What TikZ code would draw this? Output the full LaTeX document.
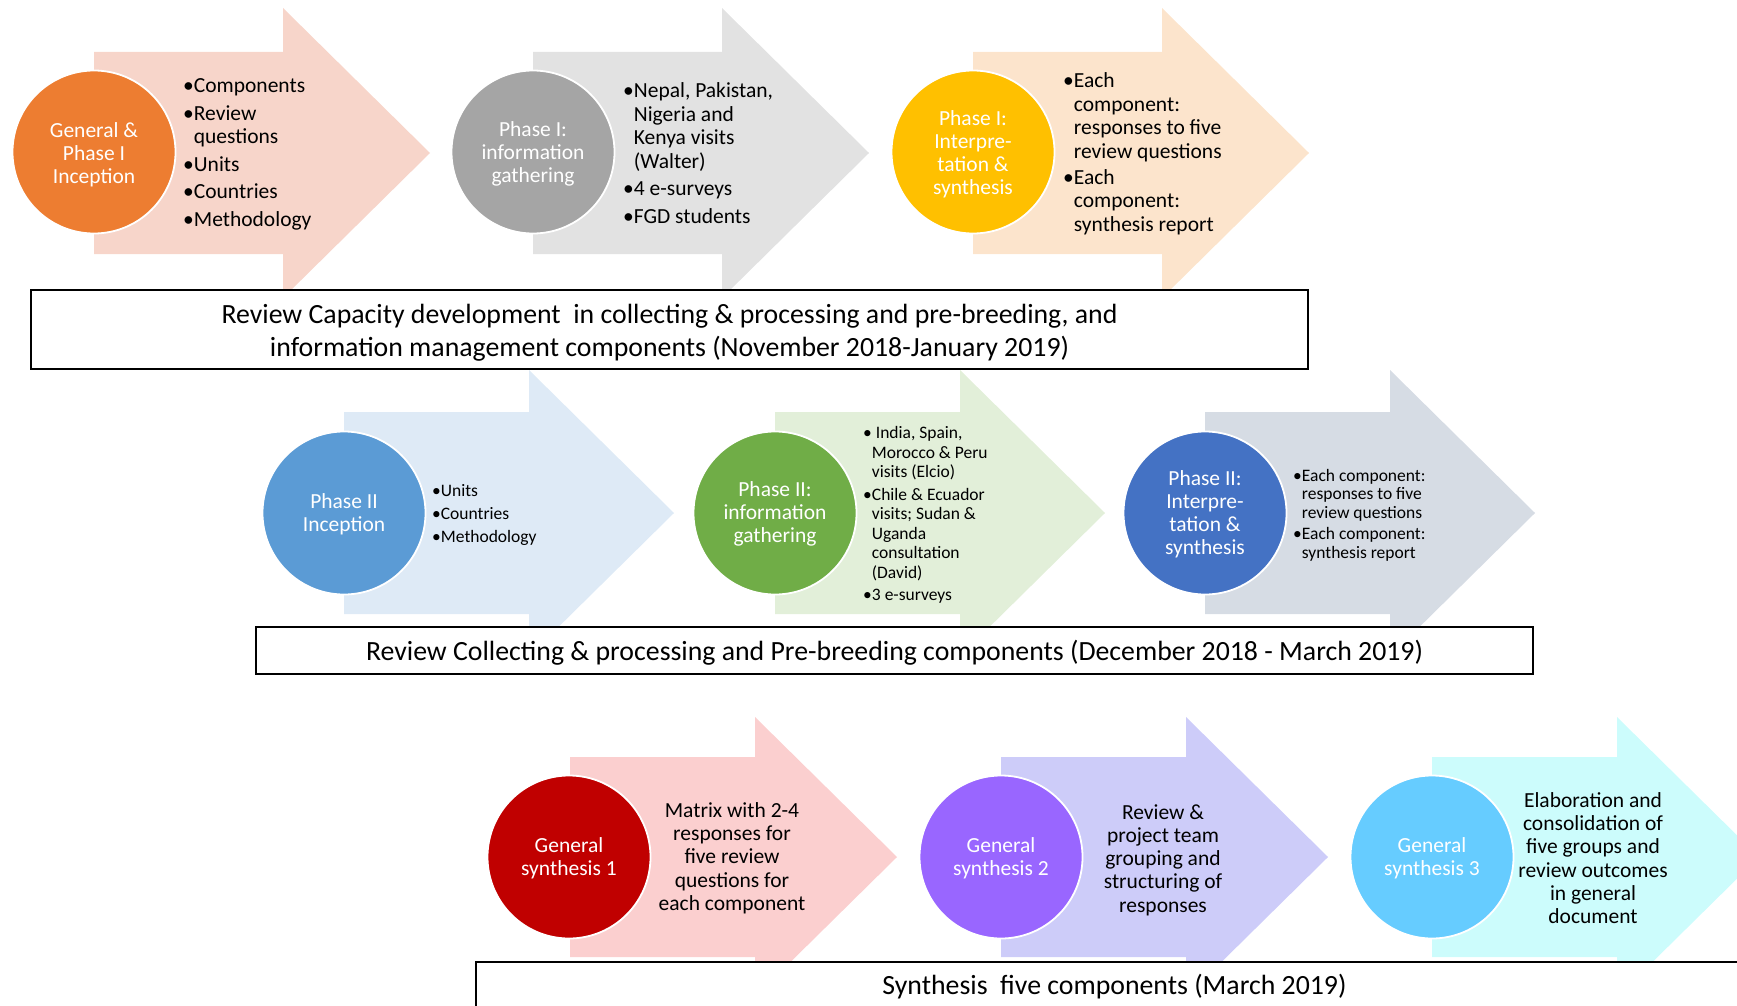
\documentclass[tikz,border=0pt]{standalone}
\usepackage{fontspec}
\setmainfont{Carlito}
\definecolor{cOr}{HTML}{ED7D31}\definecolor{aOr}{HTML}{F7D5CA}
\definecolor{cGy}{HTML}{A5A5A5}\definecolor{aGy}{HTML}{E2E2E2}
\definecolor{cGd}{HTML}{FFC000}\definecolor{aGd}{HTML}{FCE4CC}
\definecolor{cBl}{HTML}{5B9BD5}\definecolor{aBl}{HTML}{DEEAF6}
\definecolor{cGn}{HTML}{70AD47}\definecolor{aGn}{HTML}{E2EFD9}
\definecolor{cDb}{HTML}{4472C4}\definecolor{aDb}{HTML}{D6DCE4}
\definecolor{cRd}{HTML}{C00000}\definecolor{aRd}{HTML}{FBCFCF}
\definecolor{cPu}{HTML}{9966FF}\definecolor{aPu}{HTML}{CDCCF9}
\definecolor{cCy}{HTML}{66CCFF}\definecolor{aCy}{HTML}{CCFCFC}
\newcommand\chev[7]{% cx cy colour headstart tip headhalf bodyhalf
  \fill[#3] (#1,#2-#7) -- (#1+#4,#2-#7) -- (#1+#4,#2-#6) -- (#1+#5,#2)
    -- (#1+#4,#2+#6) -- (#1+#4,#2+#7) -- (#1,#2+#7) -- cycle;}
\newcommand\ph{\phantom{•}}
\tikzset{
  circ/.style={circle, minimum size=163pt, inner sep=0pt, draw=white, line width=1.8pt},
  circtxt/.style={text=white, align=center, inner sep=0pt, font=\fontsize{21.5}{23}\selectfont},
  bigtxt/.style={anchor=west, align=left, inner sep=0pt, font=\fontsize{21.5}{23.5}\selectfont},
  smalltxt/.style={anchor=west, align=left, inner sep=0pt, font=\fontsize{17.5}{19.3}\selectfont},
  ctrtxt/.style={align=center, inner sep=0pt, font=\fontsize{21.5}{23.3}\selectfont},
  periodbox/.style={draw=black, fill=white, line width=1.6pt, minimum width=1277pt, inner sep=0pt},
  periodtxt/.style={align=center, inner sep=0pt, font=\fontsize{27.8}{33}\selectfont}
}
\begin{document}
\begin{tikzpicture}[x=1pt,y=-1pt]
\useasboundingbox (0,0) rectangle (1737,1006);
\clip (0,0) rectangle (1737,1006);
% row 1 arrows
\chev{94}{153}{aOr}{189}{336}{145}{101}
\chev{533}{153}{aGy}{189}{336}{145}{101}
\chev{973}{153}{aGd}{189}{336}{145}{101}
% row 2 arrows
\chev{344}{513}{aBl}{185}{330}{143}{101}
\chev{775}{513}{aGn}{185}{330}{143}{101}
\chev{1205}{513}{aDb}{185}{330}{143}{101}
% row 3 arrows
\chev{570}{857}{aRd}{185}{327}{140}{100}
\chev{1001}{857}{aPu}{185}{327}{140}{100}
\chev{1432}{857}{aCy}{185}{327}{140}{100}
% row 1 circles and texts
\node[circ, fill=cOr] (c11) at (94,152) {};
\node[circ, fill=cGy] (c12) at (533,152) {};
\node[circ, fill=cGd] (c13) at (973,152) {};
\node[circtxt] (c11t) at (94,154.3) {General \&\\Phase I\\Inception};
\node[circtxt] (c12t) at (533,154.3) {Phase I:\\information\\gathering};
\node[circtxt] (c13t) at (973,154.3) {Phase I:\\Interpre-\\tation \&\\synthesis};
\node[bigtxt] (t11) at (183,154.5) {•Components\\[4pt]•Review\\\ph questions\\[4pt]•Units\\[4pt]•Countries\\[4pt]•Methodology};
\node[bigtxt] (t12) at (623,153) {•Nepal, Pakistan,\\\ph Nigeria and\\\ph Kenya visits\\\ph (Walter)\\[4pt]•4 e-surveys\\[4pt]•FGD students};
\node[bigtxt] (t13) at (1063,154) {•Each\\\ph component:\\\ph responses to five\\\ph review questions\\[2.5pt]•Each\\\ph component:\\\ph synthesis report};
% row 2 circles and texts
\node[circ, fill=cBl] (c21) at (344,513) {};
\node[circ, fill=cGn] (c22) at (775,513) {};
\node[circ, fill=cDb] (c23) at (1205,513) {};
\node[circtxt] (c21t) at (344,514) {Phase II\\Inception};
\node[circtxt] (c22t) at (775,514) {Phase II:\\information\\gathering};
\node[circtxt] (c23t) at (1205,514) {Phase II:\\Interpre-\\tation \&\\synthesis};
\node[smalltxt] (t21) at (432,515) {•Units\\[3.5pt]•Countries\\[3.5pt]•Methodology};
\node[smalltxt, font=\fontsize{17.5}{19.6}\selectfont] (t22) at (863,515) {• India, Spain,\\\ph Morocco \& Peru\\\ph visits (Elcio)\\[2.5pt]•Chile \& Ecuador\\\ph visits; Sudan \&\\\ph Uganda\\\ph consultation\\\ph (David)\\[2.5pt]•3 e-surveys};
\node[smalltxt, font=\fontsize{17.5}{18.8}\selectfont] (t23) at (1293,515) {•Each component:\\\ph responses to five\\\ph review questions\\[2pt]•Each component:\\\ph synthesis report};
% row 3 circles and texts
\node[circ, fill=cRd] (c31) at (569,857) {};
\node[circ, fill=cPu] (c32) at (1001,857) {};
\node[circ, fill=cCy] (c33) at (1432,857) {};
\node[circtxt] (c31t) at (569,858) {General\\synthesis 1};
\node[circtxt] (c32t) at (1001,858) {General\\synthesis 2};
\node[circtxt] (c33t) at (1432,858) {General\\synthesis 3};
\node[ctrtxt] (t31) at (732,858) {Matrix with 2-4\\responses for\\five review\\questions for\\each component};
\node[ctrtxt] (t32) at (1163,860) {Review \&\\project team\\grouping and\\structuring of\\responses};
\node[ctrtxt] (t33) at (1593,858) {Elaboration and\\consolidation of\\five groups and\\review outcomes\\in general\\document};
% period boxes
\node[periodbox, minimum height=79pt] (b1) at (669.5,329.5) {};
\node[periodbox, minimum height=47pt] (b2) at (894.5,650.5) {};
\node[periodbox, minimum height=47pt] (b3) at (1114.5,985.5) {};
\node[periodtxt] (b1t) at (669.5,332.3) {Review Capacity development\ \ in collecting \& processing and pre-breeding, and\\information management components (November 2018-January 2019)};
\node[periodtxt] (b2t) at (894.5,652.7) {Review Collecting \& processing and Pre-breeding components (December 2018 - March 2019)};
\node[periodtxt] (b3t) at (1114.5,986.5) {Synthesis\ \ five components (March 2019)};
\end{tikzpicture}
\end{document}
